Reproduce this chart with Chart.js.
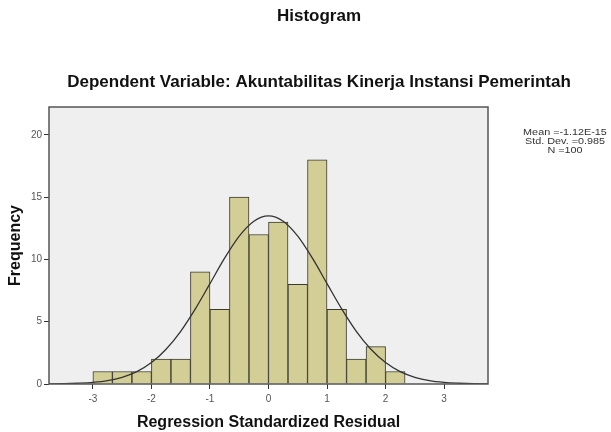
<!DOCTYPE html>
<html>
<head>
<meta charset="utf-8">
<script src="https://cdn.jsdelivr.net/npm/chart.js@4.4.1/dist/chart.umd.min.js"></script>
<style>
  html, body { margin: 0; padding: 0; background: #fff; }
  #wrap { width: 611px; height: 432px; position: relative; }
</style>
</head>
<body>
<div id="wrap"><canvas id="histChart" width="611" height="432"></canvas></div>
<script>
// histogram bins (left edges, width 1/3) and counts
const binEdges = [-3, -2.6667, -2.3333, -2, -1.6667, -1.3333, -1, -0.6667, -0.3333, 0, 0.3333, 0.6667, 1, 1.3333, 1.6667, 2, 2.3333];
const counts = [1, 1, 1, 2, 2, 9, 6, 15, 12, 13, 8, 18, 6, 2, 3, 1];

// normal curve
const curveX = [-3.75, -3.5, -3.25, -3, -2.75, -2.5, -2.25, -2, -1.75, -1.5, -1.25, -1, -0.75, -0.5, -0.25, 0,
                0.25, 0.5, 0.75, 1, 1.25, 1.5, 1.75, 2, 2.25, 2.5, 2.75, 3, 3.25, 3.5, 3.75];
const curveY = [0.01, 0.02, 0.06, 0.13, 0.27, 0.54, 0.99, 1.72, 2.79, 4.23, 6.03, 8.06, 10.10, 11.87, 13.07, 13.5,
                13.07, 11.87, 10.10, 8.06, 6.03, 4.23, 2.79, 1.72, 0.99, 0.54, 0.27, 0.13, 0.06, 0.02, 0.01];

const xTicks = [-3, -2, -1, 0, 1, 2, 3];
const yTicks = [0, 5, 10, 15, 20];
const statsLines = ['Mean =-1.12E-15', 'Std. Dev. =0.985', 'N =100'];

const barData = counts.map((c, i) => ({ x: (binEdges[i] + binEdges[i + 1]) / 2, y: c }));
const lineData = curveX.map((x, i) => ({ x: x, y: curveY[i] }));

const font = "'Liberation Sans', Arial, sans-serif";

const decor = {
    id: 'decor',
    beforeDraw(chart) {
        const { ctx, chartArea: a } = chart;
        ctx.save();
        ctx.fillStyle = '#efefef';
        ctx.fillRect(a.left, a.top, a.right - a.left, a.bottom - a.top);
        ctx.restore();
    },
    afterDraw(chart) {
        const { ctx, chartArea: a } = chart;
        ctx.save();
        ctx.strokeStyle = '#555';
        ctx.lineWidth = 1.5;
        ctx.strokeRect(a.left, a.top, a.right - a.left, a.bottom - a.top);

        ctx.fillStyle = '#111';
        ctx.textAlign = 'center';
        ctx.textBaseline = 'alphabetic';
        ctx.font = 'bold 17px ' + font;
        ctx.fillText('Histogram', 319, 21);
        ctx.fillText('Dependent Variable: Akuntabilitas Kinerja Instansi Pemerintah', 319, 87);

        // stats box text, a bit stretched sideways like the SPSS output
        ctx.font = '9px ' + font;
        ctx.fillStyle = '#333';
        statsLines.forEach((t, i) => {
            ctx.save();
            ctx.translate(565, 135 + i * 9);
            ctx.scale(1.2, 1);
            ctx.fillText(t, 0, 0);
            ctx.restore();
        });
        ctx.restore();
    }
};

new Chart(document.getElementById('histChart'), {
    data: {
        datasets: [{
            type: 'line',
            data: lineData,
            borderColor: '#333',
            borderWidth: 1.3,
            pointRadius: 0,
            cubicInterpolationMode: 'monotone',
            fill: false,
            order: 0
        }, {
            type: 'bar',
            data: barData,
            backgroundColor: 'rgb(211, 206, 150)',
            borderColor: '#3a3a30',
            borderWidth: 1,
            barPercentage: 1,
            categoryPercentage: 1,
            order: 1
        }]
    },
    options: {
        responsive: false,
        animation: false,
        layout: { padding: { left: 0, top: 107, right: 123, bottom: 0 } },
        plugins: {
            legend: { display: false },
            tooltip: { enabled: false }
        },
        scales: {
            x: {
                type: 'linear',
                min: -3.75,
                max: 3.75,
                offset: false,
                afterBuildTicks: s => { s.ticks = xTicks.map(v => ({ value: v })); },
                afterFit: s => { s.height = 48; },
                grid: { offset: false, drawOnChartArea: false, drawTicks: true, tickLength: 5, color: '#333' },
                border: { display: false },
                ticks: { color: '#555', font: { family: font, size: 10 }, padding: 4 },
                title: {
                    display: true,
                    text: 'Regression Standardized Residual',
                    color: '#111',
                    font: { family: font, size: 16, weight: 'bold' },
                    padding: { top: 4, bottom: 0 }
                }
            },
            y: {
                min: 0,
                max: 22.24,
                afterBuildTicks: s => { s.ticks = yTicks.map(v => ({ value: v })); },
                afterFit: s => { s.width = 49; },
                grid: { drawOnChartArea: false, drawTicks: true, tickLength: 5, color: '#333' },
                border: { display: false },
                ticks: { color: '#555', font: { family: font, size: 10 }, padding: 2 },
                title: {
                    display: true,
                    text: 'Frequency',
                    color: '#111',
                    font: { family: font, size: 16, weight: 'bold' },
                    padding: { top: 6, bottom: 4 }
                }
            }
        }
    },
    plugins: [decor]
});
</script>
</body>
</html>
